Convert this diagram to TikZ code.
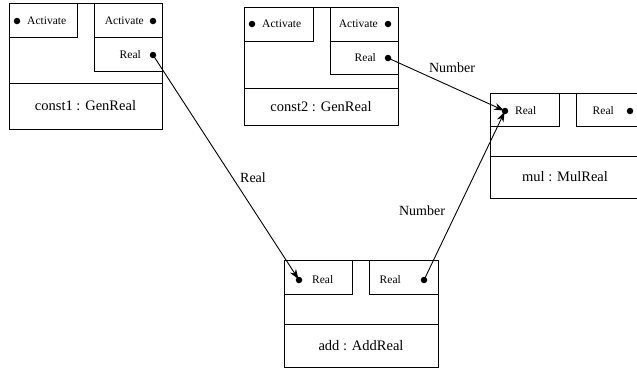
\documentclass[tikz,border=0pt]{standalone}
\usepackage{fontspec}
\setmainfont{Liberation Serif}
\usetikzlibrary{arrows.meta}
\tikzset{
  box/.style={draw, line width=0.9pt, anchor=north west, inner sep=0pt, outer sep=0pt},
  portbox/.style={draw, line width=0.9pt, anchor=north west, inner sep=0pt, outer sep=0pt},
  pdot/.style={circle, fill=black, inner sep=0pt, minimum size=6.5pt},
  ptext/.style={font=\fontsize{11.5}{13}\selectfont, inner sep=0pt},
  mtext/.style={font=\fontsize{14.5}{17}\selectfont, inner sep=0pt},
  ltext/.style={font=\fontsize{14}{16}\selectfont, inner sep=0pt},
  conn/.style={line width=0.9pt, -{Stealth[length=10pt,width=7pt]}, shorten >=1pt}
}
\begin{document}
\begin{tikzpicture}[x=1pt,y=-1pt]
\useasboundingbox (0,0) rectangle (637,368);
\clip (0,0) rectangle (637,368);
% const1
\node[box, minimum width=153pt, minimum height=126pt] (c1) at (9,3) {};
\draw[line width=0.9pt] (9,83) -- (162,83);
\node[mtext] (c1name) at (85.5,106) {const1 : GenReal};
\node[portbox, minimum width=68pt, minimum height=34pt] (c1pa) at (9,3) {};
\node[pdot] (c1paD) at (17,21) {};
\node[ptext, anchor=west] (c1paT) at (27,21) {Activate};
\node[portbox, minimum width=68pt, minimum height=34pt] (c1pb) at (94,3) {};
\node[pdot] (c1pbD) at (153,21) {};
\node[ptext, anchor=east] (c1pbT) at (144,21) {Activate};
\node[portbox, minimum width=68pt, minimum height=34pt] (c1pc) at (94,37) {};
\node[pdot] (c1real) at (153,55) {};
\node[ptext, anchor=east] (c1pcT) at (141,55) {Real};
% const2
\node[box, minimum width=154pt, minimum height=118pt] (c2) at (244,7) {};
\draw[line width=0.9pt] (244,88) -- (398,88);
\node[mtext] (c2name) at (321,107) {const2 : GenReal};
\node[portbox, minimum width=69pt, minimum height=34pt] (c2pa) at (244,7) {};
\node[pdot] (c2paD) at (252,24) {};
\node[ptext, anchor=west] (c2paT) at (262,24) {Activate};
\node[portbox, minimum width=68pt, minimum height=34pt] (c2pb) at (330,7) {};
\node[pdot] (c2pbD) at (388,24) {};
\node[ptext, anchor=east] (c2pbT) at (378,24) {Activate};
\node[portbox, minimum width=68pt, minimum height=33pt] (c2pc) at (330,41) {};
\node[pdot] (c2real) at (388,58) {};
\node[ptext, anchor=east] (c2pcT) at (376,58) {Real};
% mul
\node[box, minimum width=150pt, minimum height=105pt] (mul) at (490,93) {};
\draw[line width=0.9pt] (490,156) -- (640,156);
\node[mtext] (mulname) at (565,177) {mul : MulReal};
\node[portbox, minimum width=69pt, minimum height=33pt] (mpa) at (490,93) {};
\node[pdot] (mulin) at (505,111) {};
\node[ptext, anchor=west] (mpaT) at (515,111) {Real};
\node[portbox, minimum width=64pt, minimum height=33pt] (mpb) at (576,93) {};
\node[pdot] (mpbD) at (630,111) {};
\node[ptext, anchor=east] (mpbT) at (614,111) {Real};
% add
\node[box, minimum width=154pt, minimum height=107pt] (add) at (284,260) {};
\draw[line width=0.9pt] (284,324) -- (438,324);
\node[mtext] (addname) at (361,346) {add : AddReal};
\node[portbox, minimum width=68pt, minimum height=34pt] (apa) at (284,260) {};
\node[pdot] (addin) at (299,280) {};
\node[ptext, anchor=west] (apaT) at (312,280) {Real};
\node[portbox, minimum width=69pt, minimum height=34pt] (apb) at (369,260) {};
\node[pdot] (addout) at (424,280) {};
\node[ptext, anchor=east] (apbT) at (401,280) {Real};
% connectors
\draw[conn] (c1real.center) -- (addin.center);
\draw[conn] (c2real.center) -- (mulin.center);
\draw[conn] (addout.center) -- (mulin.center);
% labels
\node[ltext] (l1) at (253,178) {Real};
\node[ltext] (l2) at (452,68) {Number};
\node[ltext] (l3) at (422,211) {Number};
\end{tikzpicture}
\end{document}
